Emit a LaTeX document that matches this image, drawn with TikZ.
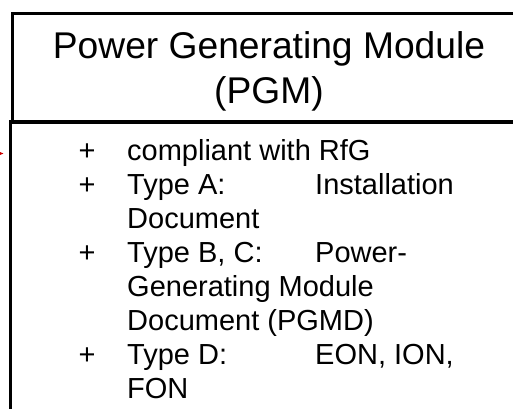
\documentclass[tikz,border=0pt]{standalone}
\usepackage{fontspec}
\setmainfont{Liberation Sans}
\usetikzlibrary{arrows.meta}
\definecolor{arrowred}{RGB}{204,0,0}
\begin{document}
\begin{tikzpicture}[x=1pt,y=-1pt,
  frame/.style={draw=black,line width=3.2pt,inner sep=0pt,minimum width=#1},
  frame/.default=514pt,
  titletxt/.style={font=\fontsize{37.2}{45}\selectfont,anchor=base,inner sep=0pt},
  itemtxt/.style={font=\fontsize{29}{34}\selectfont,anchor=base west,inner sep=0pt},
  pointer/.style={draw=arrowred,line width=1pt,-{Stealth[length=6pt,width=5pt]}}]
\useasboundingbox (0,0) rectangle (513,408);
% boxes
\node[frame=514.5pt,minimum height=108.7pt] (head) at (269.75,67.65) {};
\node[frame=516.5pt,minimum height=308pt] (body) at (268.75,276) {};
% title
\node[titletxt] (t1) at (269,58) {Power Generating Module};
\node[titletxt] (t2) at (269,103) {(PGM)};
% list
\node[itemtxt] (p1) at (78.5,160) {+};
\node[itemtxt] (a1) at (127,160) {compliant with RfG};
\node[itemtxt] (p2) at (78.5,194) {+};
\node[itemtxt] (a2) at (127,194) {Type A:};
\node[itemtxt] (b2) at (315,194) {Installation};
\node[itemtxt] (a3) at (127,228) {Document};
\node[itemtxt] (p4) at (78.5,262) {+};
\node[itemtxt] (a4) at (127,262) {Type B, C:};
\node[itemtxt] (b4) at (315,262) {Power-};
\node[itemtxt] (a5) at (127,296) {Generating Module};
\node[itemtxt] (a6) at (127,330) {Document (PGMD)};
\node[itemtxt] (p7) at (78.5,364) {+};
\node[itemtxt] (a7) at (127,364) {Type D:};
\node[itemtxt] (b7) at (315,364) {EON, ION,};
\node[itemtxt] (a8) at (127,398) {FON};
% red pointer (only its tip is visible)
\coordinate (rs) at (-25,153.5);
\coordinate (re) at (3.5,153.5);
\draw[pointer] (rs) -- (re);
\end{tikzpicture}
\end{document}
